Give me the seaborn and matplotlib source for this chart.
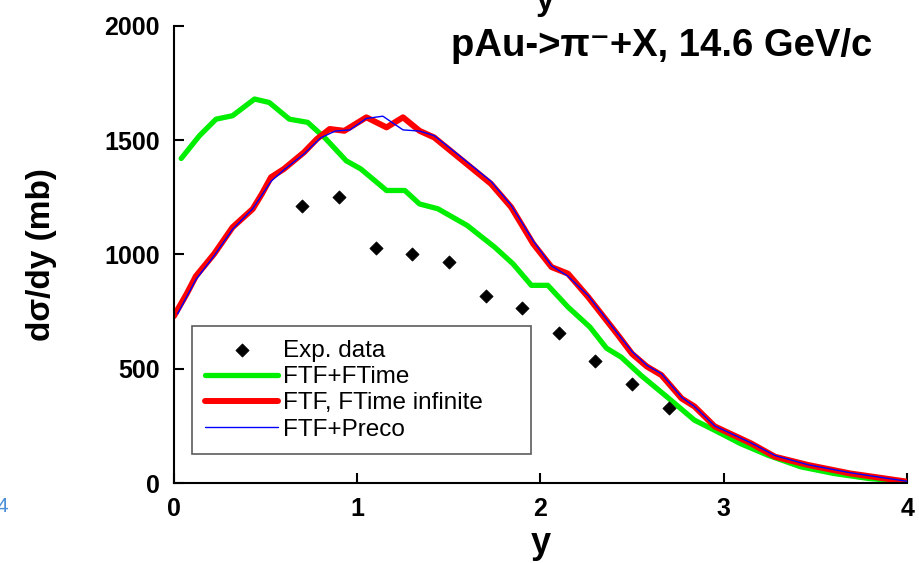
import matplotlib
matplotlib.use("Agg")
import matplotlib.pyplot as plt
import seaborn as sns
import pandas as pd

# Exp. data
exp_y   = [0.7, 0.9, 1.1, 1.3, 1.5, 1.7, 1.9, 2.1, 2.3, 2.5, 2.7]
exp_sig = [1210, 1250, 1030, 1000, 965, 820, 765, 655, 535, 432, 328]

# FTF+FTime
ftime_y   = [0.04, 0.14, 0.23, 0.32, 0.44, 0.52, 0.63, 0.73, 0.83, 0.94, 1.02, 1.16,
             1.26, 1.34, 1.44, 1.6, 1.75, 1.85, 1.95, 2.04, 2.15, 2.27, 2.36, 2.44,
             2.55, 2.69, 2.84, 2.95, 3.09, 3.24, 3.42, 3.6, 3.79, 4.0]
ftime_sig = [1420, 1520, 1592, 1607, 1680, 1665, 1592, 1578, 1505, 1410, 1374, 1280,
             1280, 1221, 1200, 1127, 1032, 959, 865, 865, 770, 682, 590, 551,
             470, 377, 275, 231, 173, 122, 71, 42, 20, 6]

# FTF, FTime infinite
inf_y   = [0.0, 0.07, 0.12, 0.22, 0.32, 0.43, 0.48, 0.53, 0.6, 0.71, 0.78, 0.85, 0.93,
           1.05, 1.16, 1.25, 1.34, 1.42, 1.53, 1.73, 1.84, 1.96, 2.06, 2.15, 2.26,
           2.42, 2.5, 2.58, 2.66, 2.77, 2.84, 2.95, 3.15, 3.28, 3.46, 3.69, 3.88, 4.0]
inf_sig = [730, 828, 905, 1003, 1119, 1199, 1265, 1338, 1374, 1447, 1505, 1549, 1541,
           1600, 1556, 1600, 1541, 1512, 1440, 1309, 1207, 1047, 945, 916, 814,
           650, 565, 510, 472, 370, 335, 248, 173, 115, 79, 42, 20, 6]

# FTF+Preco
preco_y   = [0.02, 0.07, 0.12, 0.22, 0.32, 0.43, 0.53, 0.6, 0.71, 0.8, 0.88, 0.96,
             1.05, 1.14, 1.25, 1.34, 1.42, 1.53, 1.73, 1.84, 1.96, 2.06, 2.15, 2.26,
             2.42, 2.5, 2.58, 2.66, 2.77, 2.84, 2.95, 3.15, 3.28, 3.46, 3.69, 3.88, 4.0]
preco_sig = [740, 815, 890, 995, 1110, 1200, 1320, 1370, 1440, 1510, 1540, 1545,
             1595, 1605, 1545, 1540, 1520, 1450, 1320, 1215, 1060, 950, 905, 820,
             655, 575, 515, 478, 375, 335, 250, 175, 120, 80, 45, 22, 8]

x_ticks = [0, 1, 2, 3, 4]
y_ticks = [0, 500, 1000, 1500, 2000]

sns.set_style("ticks")
plt.rcParams['font.family'] = ['Liberation Sans', 'DejaVu Sans']
plt.rcParams['text.color'] = 'black'
plt.rcParams['axes.labelcolor'] = 'black'
plt.rcParams['xtick.color'] = 'black'
plt.rcParams['ytick.color'] = 'black'

fig = plt.figure(figsize=(9.2, 5.63), dpi=100)
ax = fig.add_axes([0.189, 0.142, 0.797, 0.812])

df_exp = pd.DataFrame({'y': exp_y, 'sig': exp_sig})
sns.scatterplot(data=df_exp, x='y', y='sig', ax=ax, marker='D', s=45,
                color='black', edgecolor='black', label='Exp. data', zorder=5)
sns.lineplot(x=ftime_y, y=ftime_sig, ax=ax, color='#00ee00', lw=3.8,
             sort=False, estimator=None, label='FTF+FTime')
sns.lineplot(x=inf_y, y=inf_sig, ax=ax, color='#ff0000', lw=4.3,
             sort=False, estimator=None, label='FTF, FTime infinite')
sns.lineplot(x=preco_y, y=preco_sig, ax=ax, color='#0000ff', lw=1.0,
             sort=False, estimator=None, label='FTF+Preco')

ax.set_xlim(0, 4)
ax.set_ylim(0, 2000)
ax.set_xticks(x_ticks)
ax.set_yticks(y_ticks)
ax.set_xticklabels([str(t) for t in x_ticks], fontsize=18, fontweight='bold')
ax.set_yticklabels([str(t) for t in y_ticks], fontsize=18, fontweight='bold')
ax.tick_params(direction='in', length=7, width=1.5, pad=10)
for side in ['top', 'right']:
    ax.spines[side].set_visible(False)
for side in ['left', 'bottom']:
    ax.spines[side].set_linewidth(1.5)
    ax.spines[side].set_color('black')

ax.set_xlabel('y', fontsize=26, fontweight='bold', labelpad=4)
ax.set_ylabel('dσ/dy (mb)', fontsize=24, fontweight='bold', labelpad=34)

ax.text(0.953, 0.955, 'pAu->π⁻+X, 14.6 GeV/c', transform=ax.transAxes,
        ha='right', va='center', fontsize=27.5, fontweight='bold',
        family=['Liberation Sans', 'DejaVu Sans'])

leg = ax.legend(loc='lower left', bbox_to_anchor=(0.0246, 0.063, 0.4625, 0.3),
                mode='expand', fontsize=17.5,
                frameon=True, fancybox=False, edgecolor='#333333',
                handlelength=3.0, borderpad=0.55, labelspacing=0.18,
                handletextpad=0.2, borderaxespad=0)
leg.get_frame().set_linewidth(1.2)

# stray fragments at the figure edges
fig.text(0.592, 0.997, 'y', ha='center', va='center', fontsize=24, fontweight='bold')
fig.text(-0.004, 0.10, '4', ha='left', va='center', fontsize=15, color='#4a90d9')

fig.savefig('out.png', dpi=100)
